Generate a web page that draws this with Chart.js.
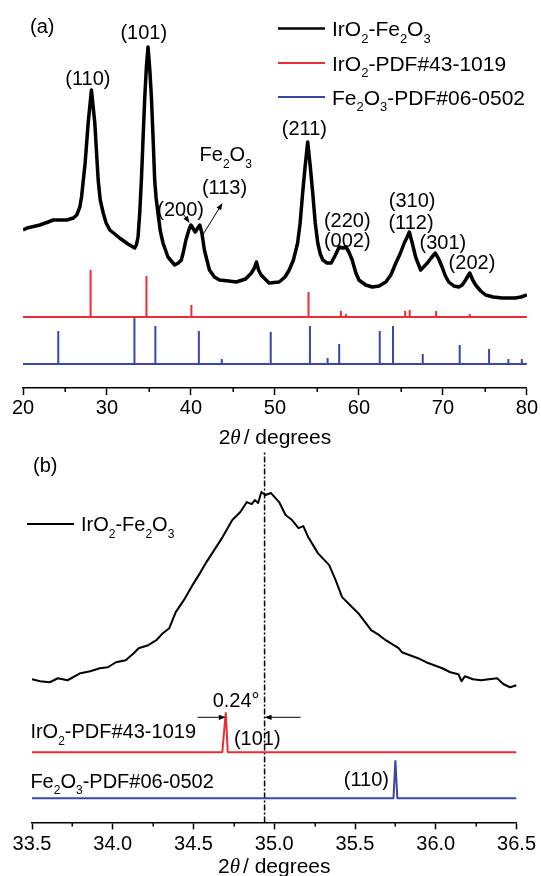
<!DOCTYPE html>
<html>
<head>
<meta charset="utf-8">
<script src="https://cdn.jsdelivr.net/npm/chart.js@4.4.1/dist/chart.umd.min.js"></script>
<style>
  html, body { margin: 0; padding: 0; background: #fff; overflow: hidden; }
  #wrap { position: relative; width: 541px; height: 876px; }
  canvas { position: absolute; left: 0; }
  #chartA { top: 0; }
  #chartB { top: 450px; }
</style>
</head>
<body>
<div id="wrap">
  <canvas id="chartA" width="541" height="450"></canvas>
  <canvas id="chartB" width="541" height="426"></canvas>
</div>
<script>
// ---------- panel (a): full pattern 20-80 deg ----------
const twoThetaA = [20.0, 20.5, 21.0, 22.0, 23.0, 23.6, 24.5, 25.2, 26.0, 26.4, 26.77, 26.97, 27.4, 27.76, 28.15, 28.55, 28.95, 29.2, 29.55, 29.9,
  30.34, 31.5, 32.5, 33.1, 33.3, 33.5, 33.7, 33.9, 34.1, 34.3, 34.5, 34.7, 34.89, 35.1, 35.29, 35.5, 35.68, 35.85, 36.07, 36.35,
  36.67, 37.26, 38.06, 38.5, 38.85, 39.1, 39.4, 39.75, 40.0, 40.5, 41.05, 41.3, 41.6, 42.2, 42.8, 43.4, 44.5, 45.4, 46.5, 47.2,
  47.55, 47.8, 48.05, 48.35, 49.3, 50.5, 51.2, 51.7, 52.2, 52.7, 53.0, 53.3, 53.6, 53.9, 54.2, 54.5, 54.8, 55.1, 55.4, 55.7,
  56.2, 56.7, 57.2, 57.65, 58.1, 58.45, 58.8, 59.2, 59.6, 60.0, 60.8, 61.6, 62.4, 63.2, 63.8, 64.4, 64.9, 65.4, 65.75, 66.0,
  66.35, 66.75, 67.35, 67.7, 68.15, 68.6, 69.1, 69.5, 69.9, 70.3, 70.7, 71.3, 71.9, 72.3, 72.7, 73.2, 73.55, 73.9, 74.5, 75.1,
  76.0, 77.05, 78.6, 79.3, 80.0];
const countsA = [158, 160, 161, 163, 166, 168, 168, 168, 170, 173, 181, 191, 225, 265, 298, 265, 208, 188, 175, 165,
  158, 150, 144, 141, 140, 143, 151, 175, 208, 250, 291, 322, 341, 318, 291, 248, 208, 190, 175, 157,
  145, 131, 123, 125, 128, 136, 148, 158, 163, 156, 163, 155, 138, 118, 111, 108, 107, 106, 109, 115,
  120, 126, 118, 113, 105, 106, 111, 118, 128, 145, 165, 195, 222, 246, 222, 195, 165, 145, 134, 128,
  125, 125, 133, 141, 140, 141, 136, 128, 116, 108, 103, 101, 102, 106, 113, 125, 134, 145, 151, 156,
  145, 131, 118, 121, 125, 130, 135, 129, 121, 112, 106, 102, 101, 103, 108, 115, 108, 103, 97, 93,
  91, 90, 90, 91, 93];

// reference cards (stick positions / relative heights), drawn on offset baselines
const irPdfPos = [28.05, 34.70, 40.05, 54.00, 57.85, 58.45, 65.50, 66.05, 69.20, 73.20];
const irPdfInt = [47, 41, 12, 25, 6, 3, 6, 7, 6, 3];
const fePdfPos = [24.20, 33.27, 35.76, 40.94, 43.67, 49.50, 54.17, 56.27, 57.65, 62.48, 64.06, 67.60, 72.00, 75.50, 77.80, 79.40];
const fePdfInt = [33, 47, 38, 33, 5, 32, 38, 6, 20, 33, 38, 10, 19, 15, 5, 5];
const irBaseA = 71;
const feBaseA = 24;

const ticksA = [20, 30, 40, 50, 60, 70, 80];
const minorA = [25, 35, 45, 55, 65, 75];

// ---------- panel (b): zoom on the (101) region ----------
const twoThetaB = [33.5, 33.55, 33.61, 33.66, 33.72, 33.8, 33.86, 33.92, 33.97, 34.02, 34.08, 34.13, 34.16, 34.22, 34.27, 34.31,
  34.35, 34.39, 34.44, 34.49, 34.54, 34.58, 34.62, 34.68, 34.74, 34.79, 34.83, 34.86, 34.88, 34.9, 34.92, 34.945, 34.98,
  35.03, 35.07, 35.11, 35.15, 35.18, 35.21, 35.27, 35.34, 35.38, 35.42, 35.47, 35.52, 35.6, 35.65, 35.69, 35.77, 35.79,
  35.84, 35.89, 35.94, 35.99, 36.04, 36.09, 36.14, 36.16, 36.18, 36.23, 36.28, 36.33, 36.38, 36.42, 36.46, 36.5];
const countsB = [143, 141, 140, 144, 142, 149, 151, 154, 155, 160, 162, 169, 174, 177, 182, 189,
  194, 210, 222, 236, 249, 260, 270, 285, 302, 310, 320, 318, 322, 319, 330, 327, 329,
  320, 307, 302, 294, 296, 285, 269, 257, 242, 225, 217, 209, 192, 187, 182, 174, 170,
  167, 164, 160, 157, 154, 150, 148, 141, 146, 143, 142, 143, 144, 138, 135, 137];

const irLineX = [33.5, 34.678, 34.70, 34.712, 36.5];
const irLineY = [0, 0, 40, 0, 0];
const feLineX = [33.5, 35.738, 35.75, 35.762, 36.5];
const feLineY = [0, 0, 38, 0, 0];
const irBaseB = 70;
const feBaseB = 24;
const peakShift = [34.70, 34.94];   // IrO2 card (101) vs sample (101)

const ticksB = [33.5, 34.0, 34.5, 35.0, 35.5, 36.0, 36.5];
const minorB = [33.75, 34.25, 34.75, 35.25, 35.75, 36.25];

// ---------- styling ----------
const FONT = '"Liberation Sans", Arial, sans-serif';
const RED = '#ec2c35';
const BLUE = '#3a47aa';
Chart.defaults.font.family = FONT;
Chart.defaults.color = '#000';

function zip(xs, ys, base) {
  return xs.map((x, i) => ({ x: x, y: ys[i] + (base || 0) }));
}

function stickTrace(pos, inten, base, x0, x1) {
  const pts = [{ x: x0, y: base }];
  pos.forEach((p, i) => {
    pts.push({ x: p, y: base }, { x: p, y: base + inten[i] }, { x: p, y: base });
  });
  pts.push({ x: x1, y: base });
  return pts;
}

// text with "_2" style subscripts
function segs(str) {
  const out = [];
  let buf = '';
  for (let i = 0; i < str.length; i++) {
    if (str[i] === '_') {
      if (buf) out.push({ t: buf, sub: false });
      buf = '';
      out.push({ t: str[i + 1], sub: true });
      i++;
    } else buf += str[i];
  }
  if (buf) out.push({ t: buf, sub: false });
  return out;
}

function drawRich(ctx, str, x, cy, size, align) {
  const parts = segs(str);
  const main = size + 'px ' + FONT;
  const sub = Math.round(size * 0.6) + 'px ' + FONT;
  let w = 0;
  parts.forEach(s => { ctx.font = s.sub ? sub : main; s.w = ctx.measureText(s.t).width; w += s.w; });
  let cx = align === 'center' ? x - w / 2 : (align === 'right' ? x - w : x);
  const base = cy + size * 0.358;
  ctx.textAlign = 'left';
  ctx.textBaseline = 'alphabetic';
  parts.forEach(s => {
    ctx.font = s.sub ? sub : main;
    ctx.fillText(s.t, cx, s.sub ? base + size * 0.32 : base);
    cx += s.w;
  });
}

function arrow(ctx, x0, y0, x1, y1) {
  const a = Math.atan2(y1 - y0, x1 - x0);
  const L = 7, W = 2.6;
  ctx.beginPath();
  ctx.moveTo(x0, y0);
  ctx.lineTo(x1 - L * Math.cos(a) * 0.8, y1 - L * Math.sin(a) * 0.8);
  ctx.stroke();
  ctx.beginPath();
  ctx.moveTo(x1, y1);
  ctx.lineTo(x1 - L * Math.cos(a) + W * Math.sin(a), y1 - L * Math.sin(a) - W * Math.cos(a));
  ctx.lineTo(x1 - L * Math.cos(a) - W * Math.sin(a), y1 - L * Math.sin(a) + W * Math.cos(a));
  ctx.closePath();
  ctx.fill();
}

const annotatePlugin = {
  id: 'annotate',
  afterDatasetsDraw(chart, args, o) {
    const { ctx, chartArea } = chart;
    const xs = chart.scales.x, ys = chart.scales.y;
    ctx.save();
    ctx.fillStyle = '#000';
    ctx.strokeStyle = '#000';

    // minor ticks
    ctx.lineWidth = 1.5;
    (o.minor || []).forEach(v => {
      const px = Math.round(xs.getPixelForValue(v)) + 0.25;
      ctx.beginPath();
      ctx.moveTo(px, chartArea.bottom);
      ctx.lineTo(px, chartArea.bottom + 4);
      ctx.stroke();
    });

    // axis title with italic theta
    const tf = Chart.helpers.toFont(xs.options.title.font);
    const tp = Chart.helpers.toPadding(xs.options.title.padding);
    const ty = xs.bottom - tp.bottom - tf.lineHeight / 2;
    const s = tf.size;
    const p1 = '2', p2 = '\u03b8', p3 = '/ degrees';
    ctx.font = s + 'px ' + FONT;
    const w1 = ctx.measureText(p1).width, w3 = ctx.measureText(p3).width;
    ctx.font = 'italic ' + s + 'px "Liberation Serif", serif';
    const w2 = ctx.measureText(p2).width;
    const gap = 3;
    let tx = (chartArea.left + chartArea.right) / 2 - (w1 + w2 + gap + w3) / 2;
    const tb = ty + s * 0.358;
    ctx.textBaseline = 'alphabetic';
    ctx.textAlign = 'left';
    ctx.font = s + 'px ' + FONT; ctx.fillText(p1, tx, tb); tx += w1;
    ctx.font = 'italic ' + s + 'px "Liberation Serif", serif'; ctx.fillText(p2, tx, tb); tx += w2 + gap;
    ctx.font = s + 'px ' + FONT; ctx.fillText(p3, tx, tb);

    // legend rows (canvas pixels)
    (o.legend || []).forEach(r => {
      ctx.strokeStyle = r.color;
      ctx.lineWidth = r.width;
      ctx.beginPath();
      ctx.moveTo(r.x0, r.y);
      ctx.lineTo(r.x1, r.y);
      ctx.stroke();
      ctx.fillStyle = '#000';
      drawRich(ctx, r.text, r.x1 + 7, r.y, r.size, 'left');
    });

    // panel tag
    if (o.tag) drawRich(ctx, o.tag.text, o.tag.x, o.tag.y, o.tag.size, 'left');

    // labels anchored at data coordinates
    ctx.fillStyle = '#000';
    (o.labels || []).forEach(l => {
      drawRich(ctx, l.text, xs.getPixelForValue(l.x), ys.getPixelForValue(l.y), l.size || 20, l.align || 'center');
    });

    // arrows anchored at data coordinates
    ctx.strokeStyle = '#000';
    ctx.lineWidth = 1;
    (o.arrows || []).forEach(a => {
      arrow(ctx, xs.getPixelForValue(a.x0), ys.getPixelForValue(a.y0), xs.getPixelForValue(a.x1), ys.getPixelForValue(a.y1));
    });
    ctx.restore();
  }
};

function xAxis(min, max, tickList, fmt, tickPad, titlePad) {
  return {
    type: 'linear', min: min, max: max,
    afterBuildTicks: sc => { sc.ticks = tickList.map(v => ({ value: v })); },
    ticks: { color: '#000', font: { size: 20, lineHeight: 1 }, padding: tickPad, maxRotation: 0, autoSkip: false, callback: fmt },
    grid: { display: true, drawOnChartArea: false, drawTicks: true, tickLength: 7, tickColor: '#000', tickWidth: 1.5 },
    border: { display: true, color: '#000', width: 1.5 },
    title: { display: true, text: '2\u03b8 / degrees', color: 'rgba(0,0,0,0)', font: { size: 21, lineHeight: titlePad.lh }, padding: { top: titlePad.top, bottom: titlePad.bottom } }
  };
}

const baseOpts = {
  responsive: false, animation: false, events: [], devicePixelRatio: 1,
  elements: { point: { radius: 0 }, line: { tension: 0, fill: false, borderJoinStyle: 'round' } }
};

// ---------- chart (a) ----------
new Chart(document.getElementById('chartA'), {
  type: 'line',
  data: {
    datasets: [
      { label: 'IrO2-Fe2O3', data: zip(twoThetaA, countsA), borderColor: '#000', borderWidth: 3.5 },
      { label: 'IrO2-PDF#43-1019', data: stickTrace(irPdfPos, irPdfInt, irBaseA, 20, 80), borderColor: RED, borderWidth: 2, borderJoinStyle: 'bevel' },
      { label: 'Fe2O3-PDF#06-0502', data: stickTrace(fePdfPos, fePdfInt, feBaseA, 20, 80), borderColor: BLUE, borderWidth: 2, borderJoinStyle: 'bevel' }
    ]
  },
  options: Object.assign({}, baseOpts, {
    layout: { padding: { left: 23, right: 13, top: 8, bottom: 0 } },
    plugins: {
      legend: { display: false }, tooltip: { enabled: false },
      annotate: {
        minor: minorA,
        tag: { text: '(a)', x: 30, y: 26, size: 20 },
        legend: [
          { text: 'IrO_2-Fe_2O_3', color: '#000', width: 2.5, x0: 278, x1: 325, y: 28.5, size: 21 },
          { text: 'IrO_2-PDF#43-1019', color: RED, width: 2, x0: 278, x1: 325, y: 63, size: 21 },
          { text: 'Fe_2O_3-PDF#06-0502', color: BLUE, width: 2, x0: 278, x1: 325, y: 97, size: 21 }
        ],
        labels: [
          { text: '(110)', x: 27.72, y: 310 },
          { text: '(101)', x: 34.38, y: 356 },
          { text: 'Fe_2O_3', x: 41.03, y: 234, align: 'left' },
          { text: '(113)', x: 44.0, y: 201 },
          { text: '(200)', x: 38.77, y: 179 },
          { text: '(211)', x: 53.5, y: 260 },
          { text: '(220)', x: 58.61, y: 168 },
          { text: '(002)', x: 58.61, y: 148 },
          { text: '(310)', x: 66.33, y: 188 },
          { text: '(112)', x: 66.2, y: 166 },
          { text: '(301)', x: 70.0, y: 146 },
          { text: '(202)', x: 73.46, y: 126 }
        ],
        arrows: [
          { x0: 38.99, y0: 175, x1: 39.84, y1: 165 },
          { x0: 41.39, y0: 153, x1: 43.76, y1: 185 }
        ]
      }
    },
    scales: {
      x: xAxis(20, 80, ticksA, v => v, 3, { lh: 1, top: 4.5, bottom: 3.5 }),
      y: { display: false, min: 0, max: 380 }
    }
  }),
  plugins: [annotatePlugin]
});

// ---------- chart (b) ----------
new Chart(document.getElementById('chartB'), {
  type: 'line',
  data: {
    datasets: [
      { label: 'IrO2-Fe2O3', data: zip(twoThetaB, countsB), borderColor: '#000', borderWidth: 2 },
      { label: 'IrO2-PDF#43-1019', data: zip(irLineX, irLineY, irBaseB), borderColor: RED, borderWidth: 2, borderJoinStyle: 'bevel' },
      { label: 'Fe2O3-PDF#06-0502', data: zip(feLineX, feLineY, feBaseB), borderColor: BLUE, borderWidth: 2, borderJoinStyle: 'bevel' },
      { label: 'shift', data: [{ x: peakShift[1], y: 0 }, { x: peakShift[1], y: 370 }], borderColor: '#000', borderWidth: 1.5, borderDash: [6, 2, 2, 2] }
    ]
  },
  options: Object.assign({}, baseOpts, {
    layout: { padding: { left: 32, right: 22, top: 2, bottom: 0 } },
    plugins: {
      legend: { display: false }, tooltip: { enabled: false },
      annotate: {
        minor: minorB,
        tag: { text: '(b)', x: 33, y: 15, size: 20 },
        legend: [
          { text: 'IrO_2-Fe_2O_3', color: '#000', width: 2, x0: 27, x1: 74, y: 74, size: 20 }
        ],
        labels: [
          { text: '0.24\u00b0', x: 34.764, y: 122 },
          { text: 'IrO_2-PDF#43-1019', x: 33.49, y: 91, align: 'left' },
          { text: '(101)', x: 34.75, y: 84, align: 'left' },
          { text: 'Fe_2O_3-PDF#06-0502', x: 33.49, y: 42, align: 'left' },
          { text: '(110)', x: 35.57, y: 44 }
        ],
        arrows: [
          { x0: 34.525, y0: 105, x1: peakShift[0], y1: 105 },
          { x0: 35.163, y0: 105, x1: peakShift[1], y1: 105 }
        ]
      }
    },
    scales: {
      x: xAxis(33.5, 36.5, ticksB, v => Number(v).toFixed(1), 5, { lh: 0.6, top: 0, bottom: 4 }),
      y: { display: false, min: 0, max: 370 }
    }
  }),
  plugins: [annotatePlugin]
});
</script>
</body>
</html>
